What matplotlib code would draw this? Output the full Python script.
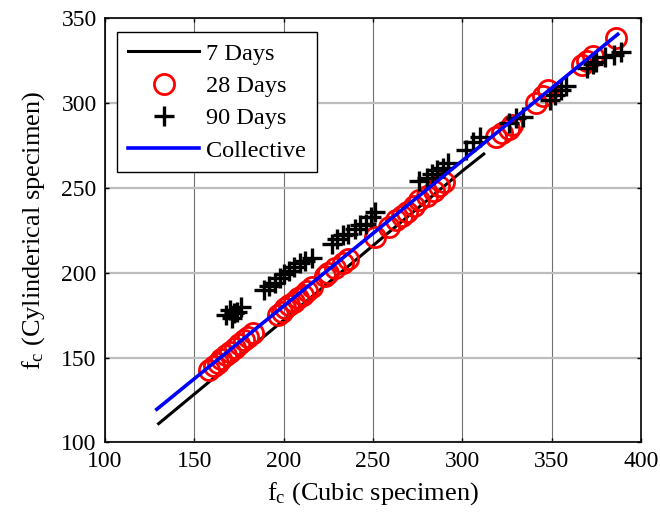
#!/usr/bin/env python3
# Cylinder vs cube compressive strength - 7 / 28 / 90 days + collective fit
import matplotlib
matplotlib.use('Agg')
from matplotlib import pyplot as plt

plt.rcParams['font.family'] = ['Liberation Serif', 'DejaVu Serif']
plt.rcParams['mathtext.fontset'] = 'custom'
plt.rcParams['mathtext.rm'] = 'Liberation Serif'
plt.rcParams['mathtext.it'] = 'Liberation Serif:italic'

# ---- data ----
days7_x = [130, 200, 250, 300, 312]
days7_y = [111, 172, 216, 260, 270]

days28_x = [158, 161, 163, 165, 168, 170, 173, 175, 178, 180, 183,
            197, 199, 201, 203, 206, 208, 211, 213, 216,
            223, 225, 229, 233, 236,
            251, 259, 263, 266, 269, 273, 276, 280, 284, 287, 290,
            319, 322, 326, 328,
            341, 345, 348,
            367, 370, 373, 386]
days28_y = [142.6, 145, 147, 149, 151.5, 153.5, 155.5, 158, 160.3, 162, 164.3,
            175, 177, 179, 181, 183, 185, 187, 189.5, 191.7,
            198, 199.6, 202.5, 205.5, 208,
            221, 227, 231, 233.5, 236, 239.5, 243, 245, 248, 251, 253.7,
            280, 282.5, 285, 287,
            300, 304, 307.7,
            322.5, 325, 328, 338.2]

days90_x = [168, 170, 171, 172, 174, 176,
            189, 192, 195, 198, 200, 203, 206, 209, 212, 216,
            227, 230, 233, 236, 240, 243, 246, 249, 251,
            276, 280, 283, 286, 289, 292,
            302, 306, 310,
            326, 330, 334,
            349, 352, 355, 358,
            370, 373, 375, 380, 385, 389]
days90_y = [175, 178, 173.5, 176, 177, 179.5,
            190, 192, 194, 197, 199.5, 201, 203.5, 205.5, 207, 208.5,
            217, 220, 222, 223, 226, 228, 229, 233, 236,
            254, 256, 258, 260.6, 262, 264.5,
            272.3, 277, 280.2,
            288, 291, 292,
            302, 305, 308, 310,
            321, 323, 324.5, 327, 328.5, 330.3]

coll_x = [129, 387]
coll_y = [119.5, 340.6]

xticks = [100, 150, 200, 250, 300, 350, 400]
yticks = [100, 150, 200, 250, 300, 350]

# ---- plot ----
fig = plt.figure(figsize=(6.6, 5.16), dpi=100)
ax = fig.add_axes([0.1591, 0.1428, 0.8121, 0.8217])

ax.plot(days7_x, days7_y, '-', color='black', lw=2.2, label='7 Days', zorder=3)
ax.plot(days28_x, days28_y, 'o', mfc='none', mec='red', ms=14.5, mew=2.0,
        label='28 Days', zorder=4)
ax.plot(days90_x, days90_y, '+', color='black', ms=15, mew=2.4,
        label='90 Days', zorder=4)
ax.plot(coll_x, coll_y, '-', color='blue', lw=2.6, label='Collective', zorder=5)

ax.set_xlim(100, 400)
ax.set_ylim(100, 350)
ax.set_xticks(xticks)
ax.set_yticks(yticks)
ax.tick_params(direction='in', length=3, width=1, top=True, right=True,
               labelsize=17, pad=6)

ax.xaxis.grid(True, color='#707070', lw=0.8)
ax.yaxis.grid(True, color='#bdbdbd', lw=1.6)
ax.set_axisbelow(True)
for s in ax.spines.values():
    s.set_linewidth(1.2)

ax.set_xlabel(r'f$_\mathregular{c}$ (Cubic specimen)', fontsize=19, labelpad=6)
ax.set_ylabel(r'f$_\mathregular{c}$ (Cylinderical specimen)', fontsize=19, labelpad=10)

leg = ax.legend(loc='upper left', bbox_to_anchor=(0.023, 0.968), borderaxespad=0,
                fontsize=17.5, fancybox=False, edgecolor='black', framealpha=1,
                handlelength=2.9, handletextpad=0.3, labelspacing=0.42,
                borderpad=0.45, numpoints=1)
leg.get_frame().set_linewidth(1.0)

fig.savefig('out.png', dpi=100)
